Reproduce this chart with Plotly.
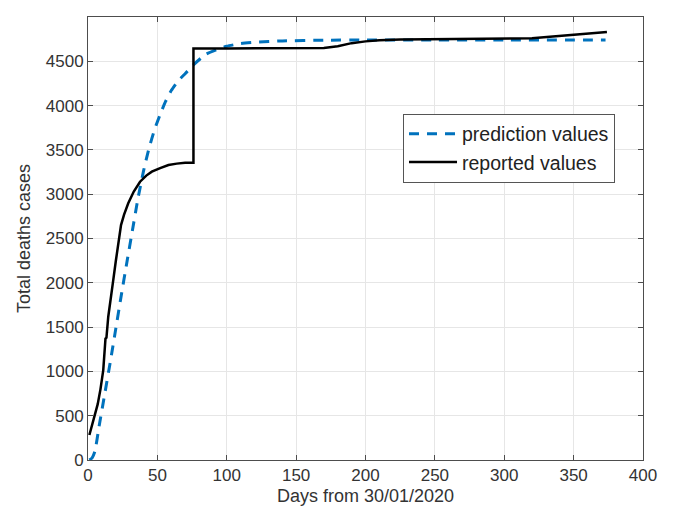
import plotly.graph_objects as go

# Prediction values (blue dashed)
pred_days = [1, 3, 5, 8, 12, 16, 20, 24, 28, 32, 36, 40, 44, 48, 52, 56, 60, 65, 70, 76,
             85, 95, 100, 110, 120, 140, 170, 200, 250, 300, 373]
pred_vals = [0, 25, 100, 380, 740, 1100, 1480, 1860, 2230, 2590, 2950, 3260, 3520, 3730,
             3900, 4050, 4170, 4280, 4360, 4460, 4580, 4645, 4670, 4700, 4715, 4730, 4738,
             4740, 4740, 4740, 4740]

# Reported values (black solid)
rep_days = [1, 4, 7, 9, 11, 12.6, 13.3, 14.6, 16, 18.2, 20, 21.8, 23.8, 26, 29, 33, 37.5, 42,
            46, 52, 58, 64, 70, 76, 76, 100, 150, 170, 180, 190, 200, 210, 225, 250, 280,
            310, 320, 335, 350, 365, 374]
rep_vals = [282, 450, 630, 800, 1015, 1370, 1380, 1617, 1800, 2031, 2240, 2445, 2652, 2770,
            2897, 3030, 3141, 3210, 3254, 3295, 3330, 3345, 3356, 3356, 4645, 4645, 4645,
            4650, 4670, 4705, 4725, 4738, 4745, 4748, 4750, 4752, 4760, 4780, 4803, 4820, 4832]

x_ticks = [0, 50, 100, 150, 200, 250, 300, 350, 400]
y_ticks = [0, 500, 1000, 1500, 2000, 2500, 3000, 3500, 4000, 4500, 5000]

FONT = "Liberation Sans, Arial, sans-serif"
AXC = "#4d4d4d"

fig = go.Figure()
fig.add_trace(go.Scatter(
    x=pred_days, y=pred_vals, mode="lines", name="prediction values",
    line=dict(color="#0072BD", width=3, dash="10px,8px", shape="spline", smoothing=0.5),
))
fig.add_trace(go.Scatter(
    x=rep_days, y=rep_vals, mode="lines", name="reported values",
    line=dict(color="#000000", width=2.5),
))

axis_common = dict(
    showline=True, linecolor=AXC, linewidth=1, mirror="ticks",
    ticks="inside", ticklen=5, tickcolor=AXC,
    showgrid=True, gridcolor="#e6e6e6", gridwidth=1, zeroline=False,
    tickfont=dict(family=FONT, size=17, color="#333333"),
)

fig.update_layout(
    width=666, height=506,
    margin=dict(l=80, r=31, t=9, b=54),
    paper_bgcolor="white", plot_bgcolor="white",
    xaxis=dict(range=[0, 400], tickvals=x_ticks,
               title=dict(text="Days from 30/01/2020", standoff=4,
                          font=dict(family=FONT, size=18, color="#333333")),
               **axis_common),
    yaxis=dict(range=[0, 5000], tickvals=y_ticks,
               title=dict(text="Total deaths cases", standoff=10,
                          font=dict(family=FONT, size=18, color="#333333")),
               **axis_common),
    legend=dict(x=0.5676, y=0.782, xanchor="left", yanchor="top",
                bgcolor="white", bordercolor="#555555", borderwidth=1,
                font=dict(family=FONT, size=19.5, color="#222222"),
                itemwidth=48, tracegroupgap=0),
    showlegend=True,
)

fig.write_html("out.html")
